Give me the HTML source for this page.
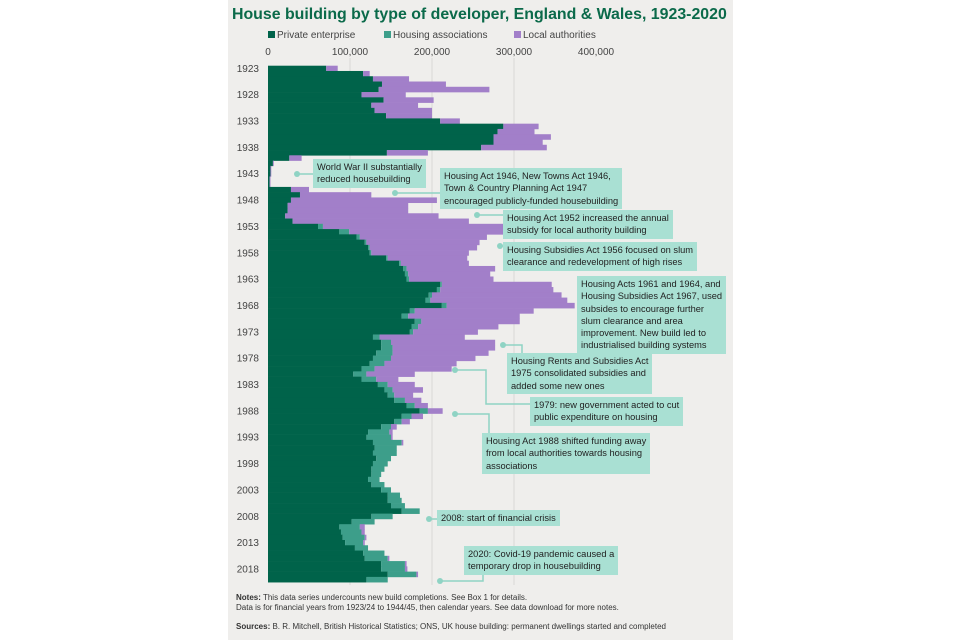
<!DOCTYPE html>
<html><head><meta charset="utf-8">
<style>
body{margin:0;width:960px;height:640px;background:#fff;font-family:"Liberation Sans",sans-serif;overflow:hidden;position:relative}
#panel{position:absolute;left:228px;top:0;width:505px;height:640px;background:#efeeec}
.ann{position:absolute;background:#a9e0d3;color:#222;font-size:9.3px;line-height:12.3px;padding:2px 4px;box-sizing:border-box;white-space:nowrap}
svg{position:absolute;left:0;top:0}
</style></head><body>
<div id="panel"></div>
<svg id="chart" width="960" height="640">
<text x="232" y="19" font-size="15.9" font-weight="bold" fill="#0b6a4a">House building by type of developer, England &amp; Wales, 1923-2020</text>
<g font-size="10" fill="#444">
<rect x="268" y="31" width="7" height="7" fill="#00634a"/>
<text x="277" y="38">Private enterprise</text>
<rect x="384" y="31" width="7" height="7" fill="#3d9e8a"/>
<text x="393" y="38">Housing associations</text>
<rect x="514" y="31" width="7" height="7" fill="#a27fc9"/>
<text x="523" y="38">Local authorities</text>
</g>
<g id="grid"></g><g id="bars"></g><g id="axes"></g><g id="conn" stroke="#8fd3c4" stroke-width="1.5" fill="none"></g>
<g font-size="8" fill="#333">
<text x="236" y="600"><tspan font-weight="bold">Notes:</tspan> This data series undercounts new build completions. See Box 1 for details.</text>
<text x="236" y="610">Data is for financial years from 1923/24 to 1944/45, then calendar years. See data download for more notes.</text>
<text x="236" y="629"><tspan font-weight="bold">Sources:</tspan> B. R. Mitchell, British Historical Statistics; ONS, UK house building: permanent dwellings started and completed</text>
</g>
</svg>
<div class="ann" style="left:313px;top:159px">World War II substantially<br>reduced housebuilding</div>
<div class="ann" style="left:440px;top:168px">Housing Act 1946, New Towns Act 1946,<br>Town &amp; Country Planning Act 1947<br>encouraged publicly-funded housebuilding</div>
<div class="ann" style="left:503px;top:210px">Housing Act 1952 increased the annual<br>subsidy for local authority building</div>
<div class="ann" style="left:503px;top:242px">Housing Subsidies Act 1956 focused on slum<br>clearance and redevelopment of high rises</div>
<div class="ann" style="left:577px;top:276px">Housing Acts 1961 and 1964, and<br>Housing Subsidies Act 1967, used<br>subsides to encourage further<br>slum clearance and area<br>improvement. New build led to<br>industrialised building systems</div>
<div class="ann" style="left:507px;top:353px">Housing Rents and Subsidies Act<br>1975 consolidated subsidies and<br>added some new ones</div>
<div class="ann" style="left:530px;top:397px">1979: new government acted to cut<br>public expenditure on housing</div>
<div class="ann" style="left:482px;top:433px">Housing Act 1988 shifted funding away<br>from local authorities towards housing<br>associations</div>
<div class="ann" style="left:437px;top:510px">2008: start of financial crisis</div>
<div class="ann" style="left:464px;top:546px">2020: Covid-19 pandemic caused a<br>temporary drop in housebuilding</div>
<script>
// values in thousands of dwellings, 1923..2020
const startYear = 1923;
const privateEnterprise = [71,116,128,139,135,114,141,126,130,144,210,287,280,275,275,260,145,26,6,3,3,2,2,28,39,28,24,24,21,30,61,87,108,118,122,124,144,160,165,167,169,210,206,196,192,212,173,163,179,175,173,128,138,138,132,128,124,114,104,114,134,142,146,154,169,185,163,154,138,122,120,128,130,128,132,128,126,126,122,126,138,146,146,150,163,126,102,87,89,91,94,106,116,118,138,138,146,120];
const housingAssociations = [0,0,0,0,0,0,0,0,0,0,0,0,0,0,0,0,0,0,0,0,0,0,0,0,0,0,0,0,0,0,6,12,4,2,2,2,2,2,4,4,3,2,4,4,6,6,6,8,8,8,4,8,12,14,20,22,18,16,16,18,12,10,8,13,10,10,12,9,12,26,30,35,27,29,18,18,16,12,14,16,12,15,17,17,22,26,28,25,25,27,22,16,26,28,29,29,35,26];
const localAuthorities = [14,8,44,78,135,54,61,57,70,56,24,43,45,70,60,80,50,15,1,1,1,1,1,22,87,178,147,147,187,215,233,208,155,138,131,119,97,83,108,100,103,134,138,158,167,156,145,136,120,98,79,104,127,125,117,103,88,94,59,27,33,37,23,20,16,18,14,10,7,4,2,2,0,0,0,0,0,0,0,0,0,0,0,0,0,0,0,6,4,2,2,0,0,2,2,3,2,0];
const xTicks = [0,100000,200000,300000,400000];
const xTickLabels = ["0","100,000","200,000","300,000","400,000"];

const NS="http://www.w3.org/2000/svg";
const x0=268, pxPer=82/100000, yTop=65.7, rowH=5.27;
const xScale=v=>x0+v*pxPer;
const yScale=yr=>yTop+(yr-startYear)*rowH;
function mk(tag,attrs,parent){const e=document.createElementNS(NS,tag);for(const k in attrs)e.setAttribute(k,attrs[k]);parent.appendChild(e);return e;}
const grid=document.getElementById('grid'),bars=document.getElementById('bars'),axes=document.getElementById('axes');
xTicks.forEach((t,i)=>{
  if(t>0&&t<400000){const l=mk('line',{x1:xScale(t),x2:xScale(t),y1:58,y2:585,stroke:'#d8d8d6','stroke-width':1},grid);
  
  }
  const tx=mk('text',{x:xScale(t),y:55,'text-anchor':'middle','font-size':10,fill:'#444'},axes);
  tx.textContent=xTickLabels[i];
  
  
});
const series=[[privateEnterprise,'#00634a','bar-private'],[housingAssociations,'#3d9e8a','bar-ha'],[localAuthorities,'#a27fc9','bar-la']];
for(let i=0;i<privateEnterprise.length;i++){
  let cum=0;const yr=startYear+i;
  series.forEach(([arr,col,name])=>{
    const v=arr[i]*1000;
    if(v>0){const r=mk('rect',{x:xScale(cum),y:yScale(yr),width:xScale(cum+v)-xScale(cum),height:rowH+0.3,fill:col},bars);
    
    }
    cum+=v;
  });
  if((yr-startYear)%5===0){
    const t=mk('text',{x:259,y:yScale(yr)+rowH/2+3.5,'text-anchor':'end','font-size':10,fill:'#444'},axes);
    t.textContent=yr;
    
    
  }
}
const conn=document.getElementById('conn');
const paths=[[[297,174],[313,174]],[[395,193],[440,193]],[[477,215],[503,215]],[[500,246],[503,246]],[[503,345],[522,345],[522,353]],[[455,370],[486,370],[486,404],[530,404]],[[455,414],[489,414],[489,433]],[[429,519],[437,519]],[[440,581],[483,581],[483,574]]];
paths.forEach(p=>{
  const pl=mk('polyline',{points:p.map(q=>q.join(',')).join(' ')},conn);
  
  
  const c=mk('circle',{cx:p[0][0],cy:p[0][1],r:3,fill:'#8fd3c4',stroke:'none'},conn);
  
  
});
</script>
</body></html>
